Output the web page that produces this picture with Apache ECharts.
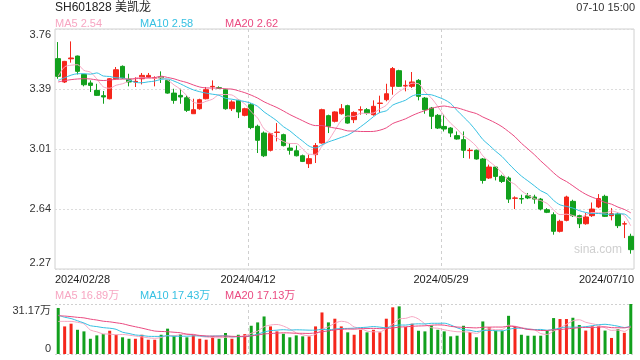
<!DOCTYPE html>
<html>
<head>
<meta charset="utf-8">
<script src="https://cdn.jsdelivr.net/npm/echarts@6/dist/echarts.min.js"></script>
<style>
html,body{margin:0;padding:0;background:#fff;}
#c{width:640px;height:360px;}
</style>
</head>
<body>
<div id="c"></div>
<script>
// ---- data ----
const dates = [
 '2024/02/28','2024/02/29',
 '2024/03/01','2024/03/04','2024/03/05','2024/03/06','2024/03/07','2024/03/08','2024/03/11','2024/03/12','2024/03/13','2024/03/14','2024/03/15','2024/03/18','2024/03/19','2024/03/20','2024/03/21','2024/03/22','2024/03/25','2024/03/26','2024/03/27','2024/03/28','2024/03/29',
 '2024/04/01','2024/04/02','2024/04/03','2024/04/08','2024/04/09','2024/04/10','2024/04/11','2024/04/12','2024/04/15','2024/04/16','2024/04/17','2024/04/18','2024/04/19','2024/04/22','2024/04/23','2024/04/24','2024/04/25','2024/04/26','2024/04/29','2024/04/30',
 '2024/05/06','2024/05/07','2024/05/08','2024/05/09','2024/05/10','2024/05/13','2024/05/14','2024/05/15','2024/05/16','2024/05/17','2024/05/20','2024/05/21','2024/05/22','2024/05/23','2024/05/24','2024/05/27','2024/05/28','2024/05/29','2024/05/30','2024/05/31',
 '2024/06/03','2024/06/04','2024/06/05','2024/06/06','2024/06/07','2024/06/11','2024/06/12','2024/06/13','2024/06/14','2024/06/17','2024/06/18','2024/06/19','2024/06/20','2024/06/21','2024/06/24','2024/06/25','2024/06/26','2024/06/27','2024/06/28',
 '2024/07/01','2024/07/02','2024/07/03','2024/07/04','2024/07/05','2024/07/08','2024/07/09','2024/07/10'
];
const opens = [3.576,3.431,3.575,3.592,3.478,3.425,3.379,3.346,3.327,3.451,3.528,3.447,3.431,3.451,3.462,3.453,3.462,3.441,3.362,3.348,
 3.333,3.234,3.265,3.327,3.402,3.395,3.383,3.265,3.317,3.224,3.290,3.156,3.114,3.007,3.118,3.104,3.021,3.004,2.973,2.924,
 2.980,3.052,3.222,3.187,3.234,3.284,3.197,3.257,3.259,3.228,3.298,3.321,3.404,3.501,3.406,3.404,3.441,3.331,3.269,3.224,
 3.155,3.145,3.098,3.073,3.005,3.007,2.953,2.835,2.903,2.845,2.835,2.709,2.707,2.725,2.717,2.704,2.638,2.607,2.504,2.572,
 2.690,2.601,2.551,2.601,2.655,2.721,2.601,2.611,2.549,2.473];
const closes = [3.466,3.559,3.580,3.497,3.414,3.410,3.348,3.338,3.451,3.507,3.456,3.431,3.435,3.472,3.472,3.456,3.456,3.362,3.317,3.338,
 3.255,3.259,3.321,3.383,3.404,3.393,3.265,3.307,3.245,3.265,3.148,3.069,2.973,3.110,3.120,3.036,3.007,2.973,2.938,2.955,
 3.036,3.259,3.156,3.245,3.265,3.176,3.242,3.259,3.238,3.280,3.300,3.358,3.514,3.404,3.410,3.431,3.342,3.259,3.218,3.145,
 3.139,3.114,3.077,3.007,3.007,2.953,2.820,2.903,2.845,2.814,2.704,2.711,2.705,2.711,2.704,2.642,2.622,2.504,2.566,2.717,
 2.601,2.551,2.593,2.642,2.707,2.597,2.613,2.539,2.551,2.390];
const lows = [3.451,3.425,3.551,3.478,3.404,3.369,3.344,3.296,3.323,3.447,3.451,3.404,3.400,3.416,3.458,3.404,3.425,3.358,3.296,3.296,
 3.245,3.234,3.259,3.323,3.379,3.389,3.259,3.251,3.207,3.218,3.138,2.990,2.965,3.000,3.062,3.031,2.980,2.969,2.934,2.897,
 2.928,3.048,3.114,3.180,3.228,3.172,3.176,3.228,3.228,3.222,3.238,3.311,3.352,3.400,3.373,3.394,3.317,3.234,3.139,3.139,
 3.124,3.089,3.073,2.959,2.955,2.949,2.800,2.829,2.820,2.804,2.680,2.642,2.675,2.704,2.675,2.634,2.617,2.483,2.497,2.566,
 2.593,2.524,2.545,2.593,2.648,2.593,2.572,2.524,2.462,2.365];
const highs = [3.679,3.562,3.683,3.595,3.480,3.441,3.420,3.375,3.455,3.524,3.534,3.482,3.462,3.487,3.487,3.466,3.497,3.445,3.389,3.389,
 3.348,3.327,3.327,3.400,3.441,3.404,3.389,3.317,3.323,3.271,3.300,3.166,3.124,3.114,3.176,3.110,3.052,3.036,2.980,2.980,
 3.052,3.265,3.228,3.249,3.294,3.290,3.249,3.280,3.269,3.317,3.346,3.420,3.524,3.507,3.441,3.493,3.449,3.338,3.276,3.232,
 3.228,3.151,3.124,3.124,3.021,3.011,2.959,2.918,2.907,2.855,2.845,2.721,2.731,2.742,2.731,2.711,2.648,2.622,2.576,2.725,
 2.700,2.607,2.617,2.683,2.735,2.731,2.648,2.622,2.566,2.489];
// volume in 万
const volumes = [28.7,17.2,18.9,15.1,14.1,9.5,11.6,12.4,14.5,12.0,10.4,9.5,9.5,12.0,8.9,8.9,12.0,15.8,11.4,12.4,
 10.4,11.6,9.5,8.9,11.0,9.5,13.1,9.5,12.0,12.4,17.6,19.7,23.4,17.2,14.1,12.6,10.4,11.6,11.0,11.0,
 17.2,25.9,19.7,22.0,17.2,13.5,12.0,15.1,13.5,15.1,13.5,22.0,29.1,29.7,16.8,18.9,14.5,14.1,17.8,15.1,
 14.1,11.0,11.4,17.6,13.7,10.4,20.3,16.6,14.5,14.5,23.8,17.4,12.0,11.4,11.4,11.4,14.9,22.4,21.8,21.8,
 22.6,18.1,14.6,17.3,17.2,14.6,10.0,15.5,13.2,31.17];
// sessions before the window (estimated from where the MA lines start)
const priorCloses = [3.40,3.45,3.42,3.38,3.44,3.47,3.41,3.39,3.42,3.43,3.40,3.42,3.41,3.41,3.44,3.27,3.53,3.48,3.59];
const priorVolumes = [22,26,24,21,25,23,27,22,24,22,30,27,29,28,26.5,17,19,18,18.8];
const priceTickLabels = ['2.27','2.64','3.01','3.39','3.76'];
const priceMin = 2.27, priceMax = 3.76;
const volTickLabels = ['0','31.17万'];
const volMax = 31.17;
const dateTickIdx = [0, 30, 60, 89];
const titleText = 'SH601828 美凯龙';
const timeText = '07-10 15:00';

// ---- helpers ----
const UP = '#f5261b', DOWN = '#12a01d';
const C5 = '#f7a6c2', C10 = '#36c0e2', C20 = '#ea4a80';
const FONT = "'Liberation Sans', Arial, 'Noto Sans CJK SC', sans-serif";
function ma(prior, vals, n) {
  const all = prior.concat(vals), off = prior.length;
  return vals.map((_, i) => {
    let s = 0;
    for (let k = 0; k < n; k++) s += all[off + i - k];
    return +(s / n).toFixed(4);
  });
}
const ma5 = ma(priorCloses, closes, 5), ma10 = ma(priorCloses, closes, 10), ma20 = ma(priorCloses, closes, 20);
const vma5 = ma(priorVolumes, volumes, 5), vma10 = ma(priorVolumes, volumes, 10), vma20 = ma(priorVolumes, volumes, 20);
const kData = dates.map((d, i) => [opens[i], closes[i], lows[i], highs[i]]);
const vData = volumes.map((v, i) => ({ value: v, itemStyle: { color: closes[i] >= opens[i] ? UP : DOWN } }));
const last = a => a[a.length - 1];

const chart = echarts.init(document.getElementById('c'), null, { renderer: 'canvas' });
const lineS = (name, data, color, xi, yi) => ({
  name, type: 'line', data, xAxisIndex: xi, yAxisIndex: yi, symbol: 'none', smooth: 0.3,
  lineStyle: { width: 1, color }, itemStyle: { color }, silent: true, z: 5
});
const txt = (x, y, text, color, size, align) => ({
  type: 'text', x, y, silent: true,
  style: { text, fill: color, font: size + 'px ' + FONT, textAlign: align || 'left', textVerticalAlign: 'middle' }
});

chart.setOption({
  animation: false,
  textStyle: { fontFamily: FONT },
  grid: [
    { left: 55, right: 6, top: 29, height: 240, show: true, borderColor: '#d0d0d0', borderWidth: 1, outerBoundsMode: 'none', containLabel: false },
    { left: 55, right: 6, top: 304, height: 50, outerBoundsMode: 'none', containLabel: false }
  ],
  xAxis: [
    { type: 'category', gridIndex: 0, data: dates, boundaryGap: true, show: false },
    { type: 'value', gridIndex: 0, min: 0, max: 90, interval: 30, position: 'bottom',
      axisLine: { show: false }, axisTick: { show: false },
      splitLine: { show: true, showMinLine: false, showMaxLine: false, lineStyle: { color: '#cfcfcf', type: [3, 3] } },
      axisLabel: {
        margin: 5, fontSize: 11, color: '#222', fontFamily: FONT,
        formatter: v => {
          const k = Math.round(v / 30);
          const lab = dates[dateTickIdx[k]];
          if (k === 0) return '{l|' + lab + '}';
          if (k === 3) return '{r|' + lab + '}';
          return lab;
        },
        rich: {
          l: { width: 80, padding: [0, 0, 0, 80], align: 'left', fontSize: 11, color: '#222', fontFamily: FONT },
          r: { width: 80, padding: [0, 80, 0, 0], align: 'right', fontSize: 11, color: '#222', fontFamily: FONT }
        }
      } },
    { type: 'category', gridIndex: 1, data: dates, boundaryGap: true, show: false },
    { type: 'value', gridIndex: 1, min: 0, max: 90, interval: 30, position: 'bottom',
      axisLine: { show: false }, axisTick: { show: false }, axisLabel: { show: false },
      splitLine: { show: true, showMinLine: false, showMaxLine: false, lineStyle: { color: '#cfcfcf', type: [3, 3] } } }
  ],
  yAxis: [
    { type: 'value', gridIndex: 0, min: priceMin, max: priceMax, show: false, position: 'left' },
    { type: 'value', gridIndex: 0, min: 0, max: 4, interval: 1, position: 'left',
      axisLine: { show: false }, axisTick: { show: false },
      splitLine: { show: true, lineStyle: { color: '#dcdcdc', type: [2, 2] } },
      axisLabel: {
        margin: 4, fontSize: 11, color: '#333', fontFamily: FONT,
        formatter: v => {
          const lab = priceTickLabels[Math.round(v)];
          if (v === 4) return '{t|' + lab + '}';
          if (v === 0) return '{b|' + lab + '}';
          return lab;
        },
        rich: {
          t: { padding: [12, 0, 0, 0], fontSize: 11, color: '#333', fontFamily: FONT },
          b: { padding: [0, 0, 12, 0], fontSize: 11, color: '#333', fontFamily: FONT }
        }
      } },
    { type: 'value', gridIndex: 1, min: 0, max: volMax, show: false, position: 'left' },
    { type: 'value', gridIndex: 1, min: 0, max: 1, interval: 1, position: 'left',
      axisLine: { show: false }, axisTick: { show: false },
      splitLine: { show: true, lineStyle: { color: '#d0d0d0', type: [2, 2] } },
      axisLabel: {
        margin: 4, fontSize: 11, color: '#333', fontFamily: FONT,
        formatter: v => v === 1 ? '{t|' + volTickLabels[1] + '}' : '{b|' + volTickLabels[0] + '}',
        rich: {
          t: { padding: [14, 0, 0, 0], fontSize: 11, color: '#333', fontFamily: FONT },
          b: { padding: [0, 0, 10, 0], fontSize: 11, color: '#333', fontFamily: FONT }
        }
      } }
  ],
  series: [
    { type: 'candlestick', xAxisIndex: 0, yAxisIndex: 0, data: kData, barWidth: 5, z: 3,
      itemStyle: { color: UP, color0: DOWN, borderColor: UP, borderColor0: DOWN, borderWidth: 1 } },
    lineS('MA5', ma5, C5, 0, 0),
    lineS('MA10', ma10, C10, 0, 0),
    lineS('MA20', ma20, C20, 0, 0),
    { type: 'bar', xAxisIndex: 2, yAxisIndex: 2, data: vData, barWidth: 3, z: 3 },
    lineS('VMA5', vma5, C5, 2, 2),
    lineS('VMA10', vma10, C10, 2, 2),
    lineS('VMA20', vma20, C20, 2, 2)
  ],
  graphic: [
    txt(55, 8, titleText, '#222', 12),
    txt(635, 8, timeText, '#333', 11, 'right'),
    txt(55, 24, 'MA5 ' + last(ma5).toFixed(2), C5, 11),
    txt(140, 24, 'MA10 ' + last(ma10).toFixed(2), C10, 11),
    txt(225, 24, 'MA20 ' + last(ma20).toFixed(2), C20, 11),
    txt(55, 296, 'MA5 ' + last(vma5).toFixed(2) + '万', C5, 11),
    txt(140, 296, 'MA10 ' + last(vma10).toFixed(2) + '万', C10, 11),
    txt(225, 296, 'MA20 ' + last(vma20).toFixed(2) + '万', C20, 11),
    txt(622, 250, 'sina.com', '#cfcfcf', 12, 'right')
  ]
});
</script>
</body>
</html>
